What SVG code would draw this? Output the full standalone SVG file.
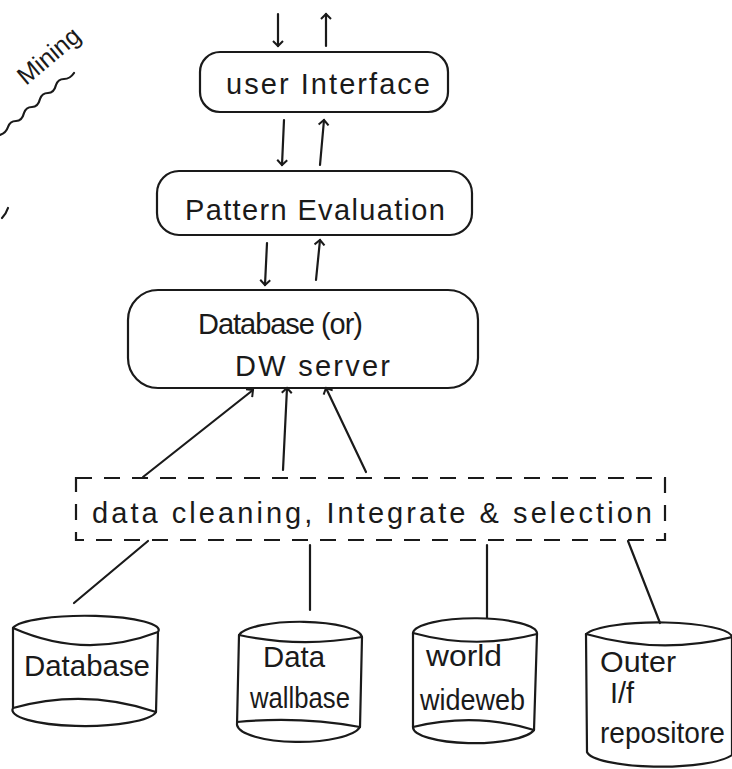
<svg xmlns="http://www.w3.org/2000/svg" width="732" height="769" viewBox="0 0 732 769">
<style>
.s{fill:none;stroke:#1a1a1a;stroke-width:2.2;stroke-linecap:round;stroke-linejoin:round}
.d{fill:none;stroke:#1a1a1a;stroke-width:2.2;stroke-dasharray:16 12}
.t{font-family:"Liberation Sans","DejaVu Sans",sans-serif;font-size:29px;fill:#1a1a1a}
</style>
<defs>
<marker id="ah" viewBox="0 0 12 12" refX="6" refY="6" markerWidth="12" markerHeight="12" orient="auto" markerUnits="userSpaceOnUse">
<path d="M1,1 L6,6 L1,11" fill="none" stroke="#1a1a1a" stroke-width="2"/>
</marker>
</defs>
<rect width="732" height="769" fill="#fff"/>
<g id="side-note">
<text class="t" transform="translate(26,86) rotate(-40)" style="font-size:25px">Mining</text>
<path class="s" d="M0,135 q6,-2 8,-8 q2,-6 8,-6 q6,0 8,-8 q2,-6 8,-6 q6,0 8,-8 q2,-6 8,-6 q6,0 8,-8 q2,-6 8,-6 q6,0 10,-6"/>
<path class="s" d="M2,218 q4,-4 6,-10"/>
</g>
<g id="connectors">
<line class="s" x1="278" y1="14" x2="278" y2="46" marker-end="url(#ah)"/>
<line class="s" x1="326" y1="46" x2="326" y2="14" marker-end="url(#ah)"/>
<line class="s" x1="284" y1="120" x2="282" y2="165" marker-end="url(#ah)"/>
<line class="s" x1="320" y1="165" x2="324" y2="120" marker-end="url(#ah)"/>
<line class="s" x1="267" y1="243" x2="265" y2="285" marker-end="url(#ah)"/>
<line class="s" x1="316" y1="280" x2="320" y2="240" marker-end="url(#ah)"/>
<line class="s" x1="143" y1="477" x2="253" y2="390" marker-end="url(#ah)"/>
<line class="s" x1="283" y1="470" x2="287" y2="388" marker-end="url(#ah)"/>
<line class="s" x1="366" y1="472" x2="326" y2="388" marker-end="url(#ah)"/>
<line class="s" x1="148" y1="541" x2="74" y2="603"/>
<line class="s" x1="310" y1="545" x2="310" y2="610"/>
<line class="s" x1="487" y1="545" x2="487" y2="618"/>
<line class="s" x1="628" y1="541" x2="660" y2="623"/>
</g>
<g id="user-interface">
<rect class="s" x="200" y="52" width="248" height="60" rx="20"/>
<text class="t" x="226" y="94" textLength="204" lengthAdjust="spacing">user Interface</text>
</g>
<g id="pattern-evaluation">
<rect class="s" x="157" y="171" width="315" height="64" rx="22"/>
<text class="t" x="185" y="220" textLength="260" lengthAdjust="spacing">Pattern  Evaluation</text>
</g>
<g id="dw-server">
<rect class="s" x="128" y="290" width="350" height="98" rx="30"/>
<text class="t" x="198" y="334" textLength="165" lengthAdjust="spacing">Database (or)</text>
<text class="t" x="235" y="376" textLength="155" lengthAdjust="spacing">DW  server</text>
</g>
<g id="data-cleaning">
<rect class="d" x="76" y="478" width="589" height="62"/>
<text class="t" x="92" y="523" textLength="560" lengthAdjust="spacing">data  cleaning, Integrate &amp; selection</text>
</g>
<g id="database">
<path class="s" d="M13,628 A72,14 0 0,1 158,632 L156,712 A72,16 0 0,1 13,708 Z"/>
<path class="s" d="M13,628 Q85,660 158,632"/>
<path class="s" d="M13,708 Q85,688 156,712"/>
<text class="t" x="24" y="676" textLength="126" lengthAdjust="spacingAndGlyphs">Database</text>
</g>
<g id="data-wallbase">
<path class="s" d="M239,635 A62,16 0 0,1 362,637 L360,727 A62,18 0 0,1 237,725 Z"/>
<path class="s" d="M239,635 Q300,648 362,637"/>
<path class="s" d="M237,722 Q300,716 360,727"/>
<text class="t" x="263" y="667" textLength="62" lengthAdjust="spacingAndGlyphs">Data</text>
<text class="t" x="250" y="708" textLength="100" lengthAdjust="spacingAndGlyphs">wallbase</text>
</g>
<g id="world-wideweb">
<path class="s" d="M413,633 A61,15 0 0,1 537,634 L534,730 A61,16 0 0,1 413,727 Z"/>
<path class="s" d="M413,633 Q475,650 537,634"/>
<path class="s" d="M413,727 Q475,712 534,730"/>
<text class="t" x="426" y="666" textLength="76" lengthAdjust="spacingAndGlyphs">world</text>
<text class="t" x="420" y="710" textLength="105" lengthAdjust="spacingAndGlyphs">wideweb</text>
</g>
<g id="outer-repository">
<path class="s" d="M586,634 A74,15 0 0,1 732,637 L732,755 A74,16 0 0,1 587,752 Z"/>
<path class="s" d="M586,634 Q660,655 732,637"/>
<text class="t" x="600" y="672" textLength="76" lengthAdjust="spacingAndGlyphs">Outer</text>
<text class="t" x="610" y="703">I/f</text>
<text class="t" x="600" y="743" textLength="125" lengthAdjust="spacingAndGlyphs">repositore</text>
</g>
</svg>
